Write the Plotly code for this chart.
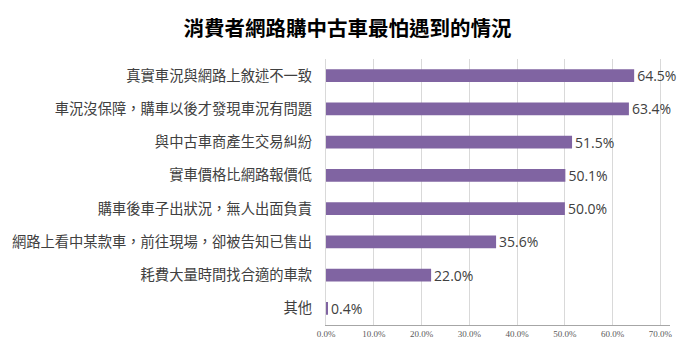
import plotly.graph_objects as go

title = "消費者網路購中古車最怕遇到的情況"
categories = [
    "真實車況與網路上敘述不一致",
    "車況沒保障，購車以後才發現車況有問題",
    "與中古車商產生交易糾紛",
    "實車價格比網路報價低",
    "購車後車子出狀況，無人出面負責",
    "網路上看中某款車，前往現場，卻被告知已售出",
    "耗費大量時間找合適的車款",
    "其他",
]
values = [64.5, 63.4, 51.5, 50.1, 50.0, 35.6, 22.0, 0.4]
tick_vals = [0, 10, 20, 30, 40, 50, 60, 70]
tick_text = ["0.0%", "10.0%", "20.0%", "30.0%", "40.0%", "50.0%", "60.0%", "70.0%"]

# The page body has an 8px default margin, so the figure is sized 688x352
# to fill the 696x360 window exactly.
W, H = 688, 352

fig = go.Figure(go.Bar(
    x=values,
    y=categories,
    orientation="h",
    marker=dict(color="#8064A2", line=dict(width=0)),
    text=[f"{v:.1f}%" for v in values],
    textposition="outside",
    constraintext="none",
    textfont=dict(family="Open Sans", size=14, color="#404040"),
    cliponaxis=False,
    hoverinfo="skip",
))

fig.update_layout(
    width=W, height=H,
    margin=dict(l=318, r=26, t=51, b=35, autoexpand=False),
    paper_bgcolor="white", plot_bgcolor="white",
    bargap=0.62,
    showlegend=False,
    title=dict(text=f"<b>{title}</b>", x=(347.5 - 8) / W, xref="container", xanchor="center",
               y=1 - 21 / H, yanchor="middle",
               font=dict(family="Noto Sans CJK TC", size=20.5, color="#000000")),
    xaxis=dict(range=[0, 72], tickvals=tick_vals, ticktext=tick_text,
               showgrid=True, gridcolor="#d9d9d9", gridwidth=1,
               showline=True, linecolor="#a6a6a6", linewidth=1,
               zeroline=False, ticks="", automargin=False,
               tickfont=dict(family="Liberation Serif", size=9, color="#595959")),
    yaxis=dict(autorange="reversed", showline=True, linecolor="#d9d9d9", linewidth=1,
               ticks="", ticklabelstandoff=10, automargin=False,
               tickfont=dict(family="Noto Sans CJK TC", size=14.3, color="#404040")),
)

fig.write_html("out.html")
